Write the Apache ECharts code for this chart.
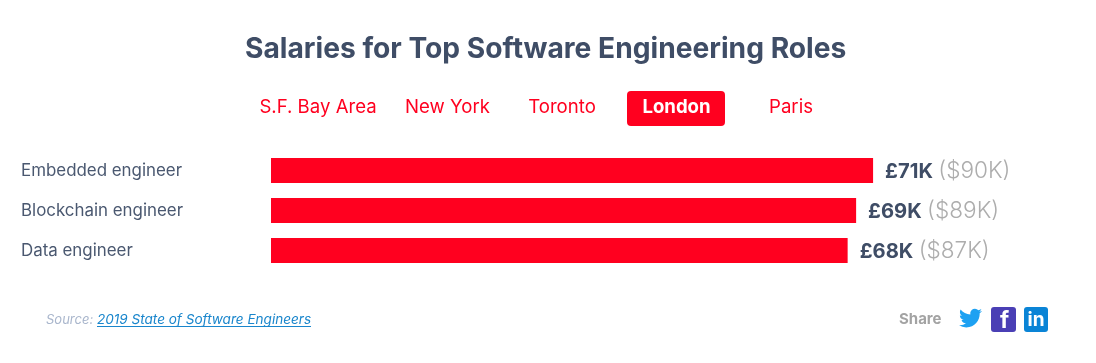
<!DOCTYPE html>
<html><head><meta charset="utf-8">
<style>html,body{margin:0;padding:0;background:#fff}#c{width:1096px;height:363px}</style>
<script src="https://cdn.jsdelivr.net/npm/echarts@6/dist/echarts.min.js"></script>
</head><body><div id="c"></div>
<script>
const roles = ['Embedded engineer', 'Blockchain engineer', 'Data engineer'];
const gbp = [71, 69, 68];
const usd = [90, 89, 87];
const cities = ['S.F. Bay Area', 'New York', 'Toronto', 'London', 'Paris'];
const cityCenters = [318, 447.5, 562, 676.5, 791];
const activeCity = 'London';
const FONT = 'Inter';
const RED = '#ff001f', NAVY = '#3f4d66';
const TW = 'M23.953 4.57a10 10 0 0 1-2.825.775 4.958 4.958 0 0 0 2.163-2.723c-.951.555-2.005.959-3.127 1.184a4.92 4.92 0 0 0-8.384 4.482C7.69 8.095 4.067 6.13 1.64 3.162a4.822 4.822 0 0 0-.666 2.475c0 1.71.87 3.213 2.188 4.096a4.904 4.904 0 0 1-2.228-.616v.06a4.923 4.923 0 0 0 3.946 4.827 4.996 4.996 0 0 1-2.212.085 4.936 4.936 0 0 0 4.604 3.417 9.867 9.867 0 0 1-6.102 2.105c-.39 0-.779-.023-1.17-.067a13.995 13.995 0 0 0 7.557 2.209c9.053 0 13.998-7.496 13.998-13.985 0-.21 0-.42-.015-.63A9.935 9.935 0 0 0 24 4.59z';
echarts.graphic.registerShape('twitterBird', echarts.graphic.extendPath(TW, {}));
const chart = echarts.init(document.getElementById('c'), null, {renderer: 'canvas'});
const txt = (x, y, text, size, fill, weight, align, style) => ({
  type: 'text', x, y,
  style: {text, fontFamily: FONT, fontSize: size, fill, fontWeight: weight || 'normal',
    fontStyle: style || 'normal', align: align || 'center', verticalAlign: 'middle'}
});
const tabs = cities.map((c, i) => txt(cityCenters[i], 107.5, c, 18.6,
  c === activeCity ? '#ffffff' : RED, c === activeCity ? 'bold' : 'normal'));
chart.setOption({
  animation: false,
  backgroundColor: '#fff',
  title: {text: 'Salaries for Top Software Engineering Roles', left: 245, top: 33, padding: 0,
    textStyle: {fontFamily: FONT, fontSize: 28.2, fontWeight: 'bold', color: NAVY, lineHeight: 34}},
  grid: {left: 271, top: 150.5, width: 763.2, height: 120, containLabel: false},
  xAxis: {type: 'value', min: 0, max: 90, show: false},
  yAxis: {type: 'category', inverse: true, data: roles,
    axisLine: {show: false}, axisTick: {show: false},
    axisLabel: {align: 'left', margin: 250, fontFamily: FONT, fontSize: 16.9, color: '#4a5870'}},
  series: [{type: 'bar', data: gbp, barWidth: 25, itemStyle: {color: RED},
    label: {show: true, position: 'right', distance: 12, offset: [0, 1],
      formatter: p => `{a|£${gbp[p.dataIndex]}K} {b|($${usd[p.dataIndex]}K)}`,
      rich: {a: {fontFamily: FONT, fontSize: 20.2, fontWeight: 'bold', color: NAVY},
             b: {fontFamily: FONT, fontSize: 22.6, fontWeight: 300, color: '#adadad', padding: [0, 0, 0, 2]}}}}],
  graphic: [
    {type: 'rect', shape: {x: 627, y: 91, width: 98, height: 35, r: 4}, style: {fill: RED}, z: 1},
    ...tabs.map(t => ({...t, z: 2})),
    txt(46, 320, 'Source:', 13, '#a9b6cc', 'normal', 'left', 'italic'),
    txt(97, 320, '2019 State of Software Engineers', 13.55, '#1a86cc', 'normal', 'left', 'italic'),
    {type: 'line', shape: {x1: 97, y1: 326.5, x2: 311, y2: 326.5}, style: {stroke: '#1a86cc', lineWidth: 1}},
    txt(899, 319.5, 'Share', 15, '#a3a3a3', 'bold', 'left'),
    {type: 'twitterBird', x: 959, y: 306.5, scaleX: 0.96, scaleY: 0.96, style: {fill: '#1da1f2'}},
    {type: 'rect', shape: {x: 991, y: 307, width: 25, height: 25, r: 3}, style: {fill: '#4a3fb5'}},
    txt(1004.5, 321, 'f', 23, '#ffffff', 'bold'),
    {type: 'rect', shape: {x: 1024, y: 307, width: 24, height: 25, r: 3}, style: {fill: '#0a84d6'}},
    txt(1036, 320, 'in', 19, '#ffffff', 'bold')
  ]
});
</script></body></html>
